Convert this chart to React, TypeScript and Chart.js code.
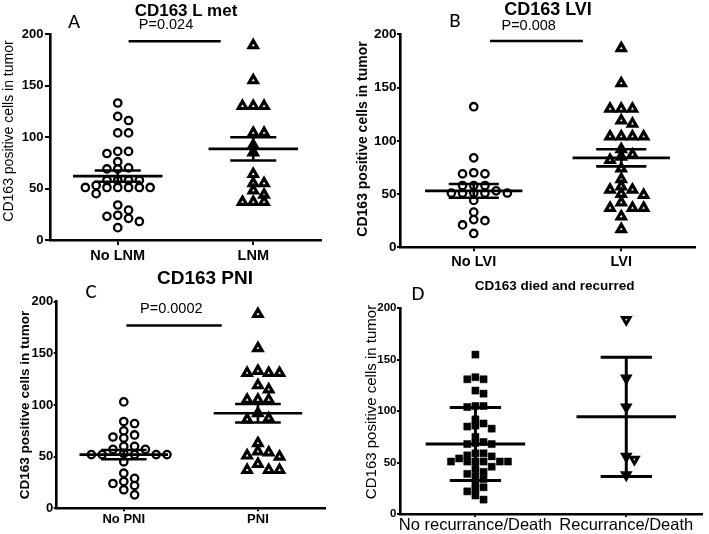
import React, { useEffect, useRef } from 'react';
import { Chart, registerables } from 'chart.js';
Chart.register(...registerables);

// ---------- data ----------
const yTicks = [0, 50, 100, 150, 200];

// Panel A: CD163 L met
const catsA = ['No LNM', 'LNM'];
const noLNM = [133, 120, 116, 104, 104, 86, 84, 86, 76, 70, 69, 69, 58, 58, 58, 58, 53, 51, 51, 51, 51, 51, 51, 45, 34, 29, 24, 23, 21, 18, 12];
const withLNM = [189, 155, 130, 130, 130, 104, 104, 92, 85, 64, 55, 55, 48, 44, 37, 37, 37];
const meanA = [62, 88.5];
const errA = [5.5, 11.3];

// Panel B: CD163 LVI
const catsB = ['No LVI', 'LVI'];
const noLVI = [132, 84, 70, 69, 69, 58, 58, 58, 53, 51, 51, 51, 51, 51, 44, 33, 26, 25, 21, 13];
const withLVI = [187, 154, 130, 130, 130, 119, 116, 104, 104, 104, 104, 92, 87, 85, 82, 74, 64, 57, 54, 54, 50, 49, 42, 37, 37, 37, 29, 17];
const meanB = [53, 84];
const errB = [6.5, 8];

// Panel C: CD163 PNI
const catsC = ['No PNI', 'PNI'];
const noPNI = [103, 84, 82, 75, 71, 69, 68, 60, 60, 57, 57, 53, 52, 52, 52, 52, 52, 45, 34, 29, 26, 24, 22, 18, 13];
const withPNI = [188, 155, 133, 131, 131, 131, 119, 115, 105, 105, 105, 92, 87, 86, 63, 55, 54, 51, 50, 43, 37, 37, 37];
const meanC = [52, 92];
const errC = [4.5, 9];

// Panel D: CD163 died and recurred
const catsD = ['No recurrance/Death', 'Recurrance/Death'];
const noRec = [155, 133, 131, 131, 120, 117, 105, 105, 104, 92, 88, 86, 85, 83, 75, 70, 69, 68, 68, 59, 59, 57, 56, 54, 51, 51, 51, 51, 51, 51, 46, 44, 41, 39, 37, 34, 30, 26, 24, 22, 18, 14];
const recDeath = [189, 132, 104, 56, 53, 38];
const meanD = [68, 94.5];
const errD = [35.5, 58];

// ---------- layout / style ----------
const FONT = '"Liberation Sans", Arial, Helvetica, sans-serif';
const LETTER = 'Carlito, Lato, "Open Sans", sans-serif';

const circle = { pointStyle: 'circle', pointRadius: 3.7, pointBorderWidth: 2.3, pointBackgroundColor: '#fff', pointBorderColor: '#000' };
const triUp = { pointStyle: 'triangle', pointRadius: 4.8, pointBorderWidth: 3.2, pointBackgroundColor: '#fff', pointBorderColor: '#000' };
const square = { pointStyle: 'rect', pointRadius: 5, pointBorderWidth: 0.5, pointBackgroundColor: '#000', pointBorderColor: '#000' };
const triDown = { pointStyle: 'triangle', pointRotation: 180, pointRadius: 4.3, pointBorderWidth: 3, pointBackgroundColor: '#fff', pointBorderColor: '#000' };

type Panel = {
  canvas: [number, number, number, number];
  area: [number, number, number, number];
  cats: string[];
  groups: number[][];
  means: number[];
  errs: number[];
  styles: any[];
  sig?: [number, number, number];
  step: number;
  thr: number;
  lw: number;
  tickFont: number;
  yTickLen: number;
  yTickPad: number;
  xFont: number;
  xWeight: string;
  xTickLen: number;
  xTickPad: number;
};

const panels: Panel[] = [
  {
    canvas: [0, 0, 352, 272], area: [50, 34, 321, 240], cats: catsA, groups: [noLNM, withLNM],
    means: meanA, errs: errA, styles: [circle, triUp], sig: [1.08, 1.76, 193],
    step: 10.8, thr: 6.2, lw: 2.6, tickFont: 13, yTickLen: 5, yTickPad: 1.5,
    xFont: 14.5, xWeight: 'bold', xTickLen: 5, xTickPad: 2.3,
  },
  {
    canvas: [353, 0, 356, 276], area: [400, 34.3, 695, 247.3], cats: catsB, groups: [noLVI, withLVI],
    means: meanB, errs: errB, styles: [circle, triUp], sig: [1.11, 1.74, 193.7],
    step: 11.2, thr: 6.2, lw: 2.6, tickFont: 13.5, yTickLen: 3, yTickPad: 0.5,
    xFont: 14.5, xWeight: 'bold', xTickLen: 4, xTickPad: 1.7,
  },
  {
    canvas: [0, 262, 352, 272], area: [56.7, 301.7, 325, 508.3], cats: catsC, groups: [noPNI, withPNI],
    means: meanC, errs: errC, styles: [circle, triUp], sig: [1.02, 1.73, 177],
    step: 10.8, thr: 6.2, lw: 2.6, tickFont: 13, yTickLen: 3, yTickPad: 0.5,
    xFont: 13, xWeight: 'bold', xTickLen: 3, xTickPad: 0,
  },
  {
    canvas: [353, 262, 356, 272], area: [400, 308.3, 708, 514], cats: catsD, groups: [noRec, recDeath],
    means: meanD, errs: errD, styles: [square, triDown],
    step: 8.3, thr: 5.6, lw: 3, tickFont: 11.5, yTickLen: 3, yTickPad: 0.5,
    xFont: 16.5, xWeight: 'normal', xTickLen: 3, xTickPad: -1.9,
  },
];

const texts = [
  { t: 'CD163 L met', x: 186, y: 10, s: 17, w: 'bold' },
  { t: 'A', x: 74, y: 21, s: 21, w: 'normal', f: LETTER },
  { t: 'P=0.024', x: 166, y: 24.3, s: 14.5, w: 'normal' },
  { t: 'CD163 positive cells in tumor', x: 8.3, y: 130.7, s: 14, w: 'normal', r: true },
  { t: 'CD163 LVI', x: 548, y: 9, s: 18, w: 'bold' },
  { t: 'B', x: 455, y: 20, s: 21, w: 'normal', f: LETTER },
  { t: 'P=0.008', x: 528.7, y: 25, s: 14.5, w: 'normal' },
  { t: 'CD163 positive cells in tumor', x: 361.7, y: 139, s: 14, w: 'bold', r: true },
  { t: 'CD163 PNI', x: 205, y: 276.7, s: 19, w: 'bold' },
  { t: 'C', x: 91, y: 291, s: 21, w: 'normal', f: LETTER },
  { t: 'P=0.0002', x: 171.3, y: 308, s: 14.5, w: 'normal' },
  { t: 'CD163 positive cells in tumor', x: 25, y: 405, s: 13.5, w: 'bold', r: true },
  { t: 'CD163 died and recurred', x: 554.7, y: 286, s: 13.5, w: 'bold' },
  { t: 'D', x: 418, y: 292.5, s: 21, w: 'normal', f: LETTER },
  { t: 'CD163 positive cells in tumor', x: 370, y: 402.3, s: 15, w: 'normal', r: true },
];

function swarmX(values: number[], center: number, stepUnits: number, thrUnits: number): number[] {
  const order = values.map((_, i) => i).sort((a, b) => values[b] - values[a]);
  const placed: { slot: number; v: number }[] = [];
  const xs: number[] = new Array(values.length).fill(center);
  for (const i of order) {
    const v = values[i];
    for (let k = 0; k < 60; k++) {
      const slot = k === 0 ? 0 : k % 2 === 1 ? (k + 1) / 2 : -k / 2;
      if (!placed.some((p) => p.slot === slot && Math.abs(p.v - v) < thrUnits)) {
        placed.push({ slot, v });
        xs[i] = center + slot * stepUnits;
        break;
      }
    }
  }
  return xs;
}

function build(canvas: HTMLCanvasElement, p: Panel) {
  const [cx, cy, cw, ch] = p.canvas;
  const [l, t, r, b] = p.area;
  const pxX = (r - l) / 2;
  const pxY = (b - t) / 200;
  const meanHalf = 0.33;
  const capHalf = 0.17;
  const seg = (pts: { x: number; y: number }[]) => ({
    type: 'scatter', data: pts, showLine: true, borderColor: '#000', borderWidth: p.lw,
    pointRadius: 0, fill: false, clip: false, borderCapStyle: 'butt',
  });
  const datasets: any[] = [];
  p.groups.forEach((_, i) => {
    const c = i + 1;
    const m = p.means[i];
    const e = p.errs[i];
    datasets.push(seg([{ x: c - meanHalf, y: m }, { x: c + meanHalf, y: m }]));
    datasets.push(seg([{ x: c - capHalf, y: m + e }, { x: c + capHalf, y: m + e }]));
    datasets.push(seg([{ x: c - capHalf, y: m - e }, { x: c + capHalf, y: m - e }]));
    datasets.push(seg([{ x: c, y: m - e }, { x: c, y: m + e }]));
  });
  if (p.sig) datasets.push(seg([{ x: p.sig[0], y: p.sig[2] }, { x: p.sig[1], y: p.sig[2] }]));
  p.groups.forEach((vals, i) => {
    const xs = swarmX(vals, i + 1, p.step / pxX, p.thr / pxY);
    datasets.push({
      type: 'scatter', data: vals.map((v, k) => ({ x: xs[k], y: v })), showLine: false, clip: false,
      ...p.styles[i],
    });
  });
  const axisCommon = {
    border: { display: true, color: '#000', width: 2.6 },
  };
  return new Chart(canvas, {
    type: 'scatter',
    data: { datasets },
    options: {
      responsive: false,
      animation: false,
      events: [],
      layout: { padding: { left: 0, top: t - cy, right: cx + cw - r, bottom: 0 } },
      plugins: { legend: { display: false }, tooltip: { enabled: false }, title: { display: false } },
      scales: {
        x: {
          type: 'linear', min: 0.5, max: 2.5,
          afterBuildTicks: (ax: any) => { ax.ticks = p.cats.map((_, i) => ({ value: i + 1 })); },
          afterFit: (ax: any) => { ax.height = cy + ch - b; },
          ticks: {
            autoSkip: false, maxRotation: 0, minRotation: 0, color: '#000', padding: p.xTickPad,
            font: { family: FONT, size: p.xFont, weight: p.xWeight },
            callback: (v: any) => p.cats[Math.round(Number(v)) - 1] ?? '',
          },
          grid: { drawOnChartArea: false, drawTicks: true, tickLength: p.xTickLen, color: '#000', lineWidth: 2 },
          ...axisCommon,
        },
        y: {
          type: 'linear', min: 0, max: 200,
          afterBuildTicks: (ax: any) => { ax.ticks = yTicks.map((v) => ({ value: v })); },
          afterFit: (ax: any) => { ax.width = l - cx; },
          ticks: {
            color: '#000', padding: p.yTickPad,
            font: { family: FONT, size: p.tickFont, weight: 'bold' },
          },
          grid: { drawOnChartArea: false, drawTicks: true, tickLength: p.yTickLen, color: '#000', lineWidth: 2 },
          ...axisCommon,
        },
      },
    } as any,
  } as any);
}

function PanelCanvas({ p }: { p: Panel }) {
  const ref = useRef<HTMLCanvasElement | null>(null);
  useEffect(() => {
    if (!ref.current) return;
    const chart = build(ref.current, p);
    return () => chart.destroy();
  }, [p]);
  const [cx, cy, cw, ch] = p.canvas;
  return (
    <canvas
      ref={ref}
      width={cw}
      height={ch}
      style={{ position: 'absolute', left: cx, top: cy, width: cw, height: ch }}
    />
  );
}

export default function App() {
  return (
    <div style={{ position: 'fixed', left: 0, top: 0, width: 709, height: 534, background: '#fff', overflow: 'hidden' }}>
      {panels.map((p, i) => (
        <PanelCanvas key={i} p={p} />
      ))}
      {texts.map((tx, i) => (
        <div
          key={'t' + i}
          style={{
            position: 'absolute',
            left: tx.x,
            top: tx.y,
            transform: `translate(-50%, -50%)${tx.r ? ' rotate(-90deg)' : ''}`,
            whiteSpace: 'nowrap',
            lineHeight: 1,
            fontFamily: tx.f ?? FONT,
            fontSize: tx.s,
            fontWeight: tx.w as any,
            color: '#000',
          }}
        >
          {tx.t}
        </div>
      ))}
    </div>
  );
}
